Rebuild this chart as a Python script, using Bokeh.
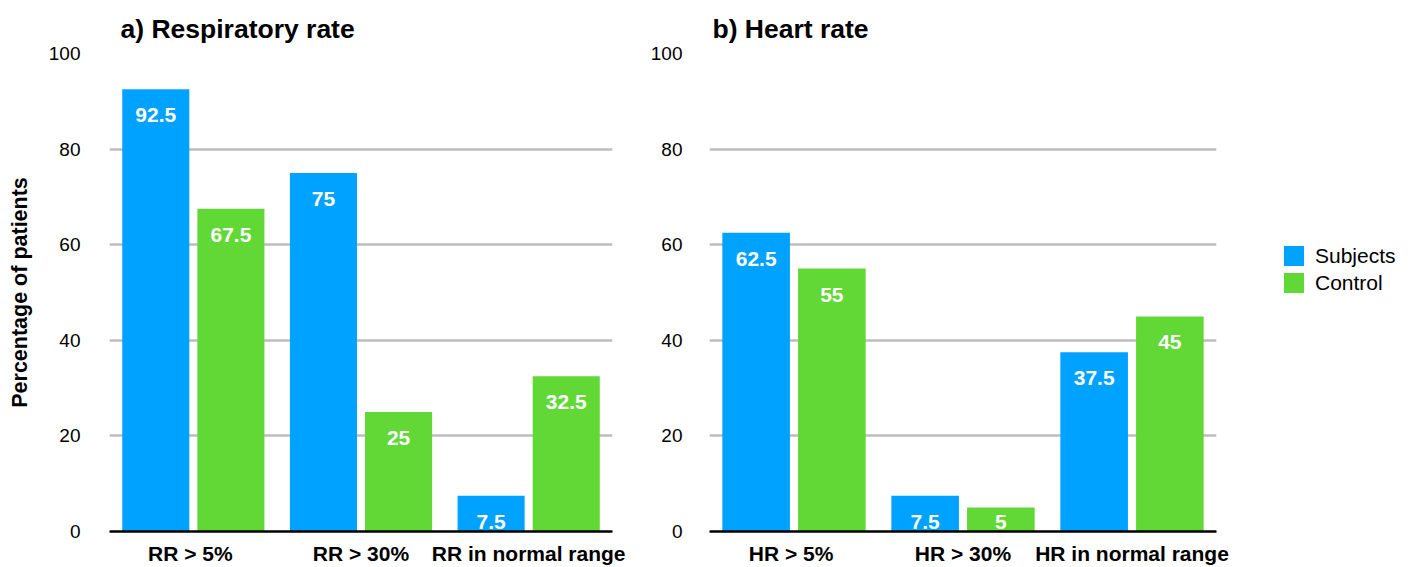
from bokeh.plotting import figure
from bokeh.models import (FactorRange, Range1d, Legend, LegendItem,
                          ColumnDataSource, FixedTicker)
from bokeh.transform import dodge
from bokeh.layouts import row
from bokeh.embed import file_html
from bokeh.resources import INLINE
from bokeh.core.properties import value

# ---- data ----
rr_categories = ["RR >  5%", "RR > 30%", "RR in normal range"]
hr_categories = ["HR >  5%", "HR > 30%", "HR in normal range"]
rr_subjects = [92.5, 75, 7.5]
rr_control = [67.5, 25, 32.5]
hr_subjects = [62.5, 7.5, 37.5]
hr_control = [55, 5, 45]
y_ticks = [0, 20, 40, 60, 80, 100]
series_names = ["Subjects", "Control"]
titles = ["a) Respiratory rate", "b) Heart rate"]
y_label = "Percentage of patients"

BLUE = "#00A2FF"
GREEN = "#61D836"
FONT = "Liberation Sans"
GRID = "#bdbdbd"
H = 567


def fmt(v):
    return f"{v:g}"


def make_panel(cats, subj, ctrl, title, width, mbl, mbr, tick_standoff,
               title_offset, ylabel=None):
    src = ColumnDataSource(dict(
        cat=cats, subj=subj, ctrl=ctrl,
        subj_lbl=[fmt(v) for v in subj], ctrl_lbl=[fmt(v) for v in ctrl],
        subj_ly=[max(v, 7.5) for v in subj], ctrl_ly=[max(v, 7.5) for v in ctrl],
    ))
    p = figure(x_range=FactorRange(factors=cats, range_padding=0),
               y_range=Range1d(0, 100), width=width, height=H,
               output_backend="svg", toolbar_location=None,
               min_border_left=mbl, min_border_right=mbr,
               min_border_top=53, min_border_bottom=35, title=title)
    p.outline_line_color = None
    p.background_fill_color = "white"
    p.border_fill_color = "white"

    p.title.text_font = FONT
    p.title.text_font_size = "26.5px"
    p.title.text_font_style = "bold"
    p.title.text_color = "black"
    p.title.offset = title_offset
    p.title.standoff = 19

    p.xgrid.grid_line_color = None
    p.ygrid.grid_line_color = GRID
    p.ygrid.grid_line_width = 2.5
    p.yaxis.ticker = FixedTicker(ticks=y_ticks)
    p.yaxis.axis_line_color = None
    p.yaxis.major_tick_line_color = None
    p.yaxis.minor_tick_line_color = None
    p.yaxis.major_tick_out = 0
    p.yaxis.major_label_standoff = tick_standoff
    p.yaxis.major_label_text_font = FONT
    p.yaxis.major_label_text_font_size = "19px"
    p.yaxis.major_label_text_color = "black"
    if ylabel:
        p.yaxis.axis_label = ylabel
        p.yaxis.axis_label_text_font = FONT
        p.yaxis.axis_label_text_font_size = "21.5px"
        p.yaxis.axis_label_text_font_style = "bold"
        p.yaxis.axis_label_text_color = "black"
        p.yaxis.axis_label_standoff = 14

    p.xaxis.axis_line_color = "black"
    p.xaxis.axis_line_width = 2.5
    p.xaxis.major_tick_line_color = None
    p.xaxis.minor_tick_line_color = None
    p.xaxis.major_tick_out = 0
    p.xaxis.major_label_standoff = 10
    p.xaxis.major_label_text_font = FONT
    p.xaxis.major_label_text_font_size = "21px"
    p.xaxis.major_label_text_font_style = "bold"
    p.xaxis.major_label_text_color = "black"
    p.xaxis.major_label_overrides = {c: c.replace("  ", " \u00a0") for c in cats}

    r1 = p.vbar(x=dodge("cat", -0.224, range=p.x_range), top="subj", width=0.4,
                source=src, fill_color=BLUE, line_color=None)
    r2 = p.vbar(x=dodge("cat", 0.224, range=p.x_range), top="ctrl", width=0.4,
                source=src, fill_color=GREEN, line_color=None)
    for off, ycol, tcol in [(-0.224, "subj_ly", "subj_lbl"), (0.224, "ctrl_ly", "ctrl_lbl")]:
        p.text(x=dodge("cat", off, range=p.x_range), y=ycol, text=tcol, source=src,
               text_font=value(FONT), text_font_size="21px", text_font_style="bold",
               text_color="white", text_align="center", text_baseline="alphabetic",
               y_offset=26)
    return p, r1, r2


p1, _, _ = make_panel(rr_categories, rr_subjects, rr_control, titles[0],
                      640, 109, 28, 29, 11, ylabel=y_label)
p2, _, _ = make_panel(hr_categories, hr_subjects, hr_control, titles[1],
                      596, 69, 20, 27, 3)

# legend holder (its swatch glyphs sit outside the visible range)
p3 = figure(width=180, height=H, output_backend="svg", toolbar_location=None,
            min_border_left=0, min_border_right=0, min_border_top=0,
            min_border_bottom=0, x_range=Range1d(0, 1), y_range=Range1d(0, 1))
p3.axis.visible = False
p3.grid.visible = False
p3.outline_line_color = None
swatch = ColumnDataSource(dict(x=[-10], top=[0]))
lb = p3.vbar(x="x", top="top", width=0.1, source=swatch, fill_color=BLUE, line_color=None)
lg = p3.vbar(x="x", top="top", width=0.1, source=swatch, fill_color=GREEN, line_color=None)
legend = Legend(items=[LegendItem(label=series_names[0], renderers=[lb]),
                       LegendItem(label=series_names[1], renderers=[lg])],
                location=(45, 236), glyph_width=25, glyph_height=25,
                label_height=25, label_standoff=9, spacing=2, padding=0, margin=0,
                border_line_color=None, background_fill_alpha=0,
                label_text_font=FONT, label_text_font_size="21px",
                label_text_color="black")
p3.add_layout(legend)

layout = row(p1, p2, p3)
open("out.html", "w").write(file_html(layout, INLINE))
